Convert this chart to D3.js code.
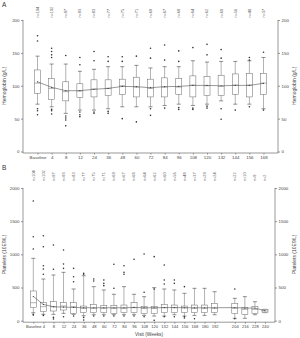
<!DOCTYPE html>
<html>
<head>
<meta charset="utf-8">
<script src="https://cdn.jsdelivr.net/npm/d3@7"></script>
<style>
  body { margin: 0; background: #fff; }
  text { font-family: "Liberation Sans", Arial, sans-serif; fill: #333; }
</style>
</head>
<body>
<div id="chart"></div>
<script>
// ---- Panel A: hemoglobin ----
var visitsA = ["Baseline", "4", "8", "12", "24", "36", "48", "60", "72", "84", "96", "108", "120", "132", "144", "156", "168"];
var nA = [104, 102, 97, 93, 83, 77, 75, 71, 69, 67, 68, 64, 62, 60, 56, 48, 37];
var hbQ1 = [88.5, 79, 77, 82, 83, 85, 87, 83, 83, 83, 87, 83, 85, 85, 87, 83, 87];
var hbMed = [104, 96, 91, 92, 95, 96, 100, 98, 96, 98, 98, 101, 100, 99, 101, 101, 104];
var hbQ3 = [124, 111, 106, 103, 109, 109, 110, 113, 110, 112, 111, 115, 114, 116, 118, 119, 119];
var hbLo = [72, 68, 58, 63, 63, 65, 68, 68, 68, 70, 72, 70, 72, 77, 72, 72, 65];
var hbHi = [145, 133, 133, 122, 125, 129, 129, 131, 127, 129, 129, 138, 136, 137, 137, 138, 143];
var hbMean = [106, 97.6, 92.5, 92.5, 94.6, 96, 99, 98.6, 97, 98.6, 99, 100.5, 100.5, 100, 100.5, 100.5, 103.7];
var hbOut = [
  [176, 168, 65, 62, 56], [157, 152, 147, 143, 64, 62, 57], [146, 54, 51, 48, 39], [143, 132, 60, 56, 53],
  [152, 138, 60, 58], [144, 137, 61, 58], [144, 137, 50], [145, 45], [157, 142, 65, 55],
  [162, 139, 66], [153, 137, 67, 64], [158, 66, 64], [163, 147, 69, 66], [155, 142, 65, 49],
  [63], [143, 139, 68], [151, 63]
];
var hbTicks = [0, 50, 100, 150, 200];

// ---- Panel B: platelets ----
var visitsB = ["Baseline", "4", "8", "12", "24", "36", "48", "60", "72", "84", "96", "108", "120", "132", "144", "156", "168", "180", "192", "204", "216", "228", "240"];
var nB = [104, 102, 97, 93, 83, 77, 75, 71, 69, 67, 68, 64, 62, 60, 56, 48, 37, 29, 24, 22, 10, 9, 2];
var pltQ1 = [196, 136, 146, 161, 111, 121, 121, 121, 106, 121, 121, 106, 106, 121, 121, 121, 121, 121, 121, 106, 96, 106, 121];
var pltMed = [271, 211, 211, 221, 211, 186, 186, 186, 186, 186, 196, 186, 186, 196, 196, 196, 186, 186, 186, 186, 171, 171, 146];
var pltQ3 = [448, 271, 286, 271, 271, 221, 246, 226, 226, 236, 271, 211, 211, 246, 236, 221, 236, 236, 262, 262, 201, 211, 171];
var pltLo = [120, 96, 96, 111, 96, 75, 90, 90, 90, 90, 90, 80, 70, 70, 90, 70, 80, 80, 90, 36, 36, 90, 121];
var pltHi = [940, 628, 689, 729, 478, 678, 513, 463, 398, 513, 398, 362, 498, 478, 463, 413, 488, 488, 437, 337, 362, 286, 171];
var pltMean = [365, 245, 210, 205, 200, 195, 195, 195, 195, 195, 200, 195, 195, 198, 198, 195, 195, 195, 195, 198, 190, 190, 150];
var pltOut = [
  [1804, 1266, 1080, 95, 85], [1281, 1115, 829, 779, 699, 80], [1141, 775, 50, 25], [1065, 854, 789, 60],
  [789, 663, 588, 70], [714, 699, 50, 10], [628, 598, 70], [613, 563, 528, 70], [850, 488, 70],
  [829, 729, 699, 70], [925, 70], [1005, 428, 60], [965, 478, 5], [840, 613, 553, 60],
  [613, 563, 60], [513, 60, 40], [30], [], [], [478, 30], [], [], []
];
var pltTicks = [0, 500, 1000, 1500, 2000];

var svg = d3.select("#chart")
  .append("svg")
  .attr("width", 300)
  .attr("height", 338);

// build the table of box stats for a panel
function makeRows(visits, n, q1, med, q3, lo, hi, mean, out) {
  return visits.map(function(v, i) {
    return { visit: v, n: n[i], q1: q1[i], med: med[i], q3: q3[i], lo: lo[i], hi: hi[i], mean: mean[i], out: out[i] };
  });
}

// draws one boxplot panel
function drawPanel(opts) {
  var g = svg.append("g");
  var x = d3.scalePoint().domain(opts.domain).range(opts.xRange);
  var y = d3.scaleLinear().domain(opts.yDomain).range(opts.yRange);
  var y0 = y(0);
  var fmt = d3.format("d");

  // left axis
  g.append("g")
    .attr("transform", `translate(${opts.left},0)`)
    .call(d3.axisLeft(y).tickValues(opts.ticks).tickFormat(fmt).tickSize(2).tickPadding(1.5))
    .call(s => s.select(".domain").attr("d", `M0,${opts.yRange[1]}V${y0 + 1.5}`));

  // right axis
  g.append("g")
    .attr("transform", `translate(${opts.right},0)`)
    .call(d3.axisRight(y).tickValues(opts.ticks).tickFormat(fmt).tickSize(2).tickPadding(1.5))
    .call(s => s.select(".domain").attr("d", `M0,${opts.yRange[1]}V${y0 + 1.5}`));

  g.selectAll(".tick text").style("font-size", "4.4px").style("fill", "#444");

  // bottom axis
  var xAxis = g.append("g")
    .attr("transform", `translate(0,${y0 + 1.5})`)
    .call(d3.axisBottom(x).tickValues(opts.labels).tickSize(1.5).tickPadding(1.5))
    .call(s => s.select(".domain").attr("d", `M${opts.left},0H${opts.right}`));
  xAxis.selectAll(".tick text").style("font-size", opts.xFont).style("fill", "#444");

  g.selectAll(".domain, .tick line").attr("stroke", "#555").attr("stroke-width", 0.6);

  var rows = opts.rows;
  var bw = 6;

  // whiskers
  var box = g.selectAll(".box").data(rows).enter().append("g").attr("class", "box");
  box.append("line")
    .attr("x1", d => x(d.visit)).attr("x2", d => x(d.visit))
    .attr("y1", d => y(d.lo)).attr("y2", d => y(d.hi))
    .attr("stroke", "#666").attr("stroke-width", 0.5);
  box.selectAll(".cap").data(d => [d.lo, d.hi].map(v => ({ visit: d.visit, v: v }))).enter()
    .append("line")
    .attr("x1", d => x(d.visit) - 2).attr("x2", d => x(d.visit) + 2)
    .attr("y1", d => y(d.v)).attr("y2", d => y(d.v))
    .attr("stroke", "#444").attr("stroke-width", 0.6);

  // boxes
  box.append("rect")
    .attr("x", d => x(d.visit) - bw / 2)
    .attr("width", bw)
    .attr("y", d => y(d.q3))
    .attr("height", d => Math.max(0.5, y(d.q1) - y(d.q3)))
    .attr("fill", "#fff").attr("stroke", "#666").attr("stroke-width", 0.5);
  box.append("line")
    .attr("x1", d => x(d.visit) - bw / 2).attr("x2", d => x(d.visit) + bw / 2)
    .attr("y1", d => y(d.med)).attr("y2", d => y(d.med))
    .attr("stroke", "#666").attr("stroke-width", 0.5);

  // outliers
  box.selectAll(".out").data(d => d.out.map(v => ({ visit: d.visit, v: v }))).enter()
    .append("circle")
    .attr("cx", d => x(d.visit)).attr("cy", d => y(d.v))
    .attr("r", 0.8).attr("fill", "#333");

  // mean line
  g.append("path")
    .datum(rows)
    .attr("fill", "none").attr("stroke", "#555").attr("stroke-width", 0.6)
    .attr("d", d3.line().x(d => x(d.visit)).y(d => y(d.mean)));
  g.selectAll(".mean").data(rows).enter().append("circle")
    .attr("cx", d => x(d.visit)).attr("cy", d => y(d.mean))
    .attr("r", 0.6).attr("fill", "#333");

  // n labels at top
  g.selectAll(".nlab").data(rows).enter().append("text")
    .attr("transform", d => `translate(${x(d.visit) + 1.4},${opts.nBase}) rotate(-90)`)
    .style("font-size", "3.8px").style("fill", "#555")
    .text(d => "n=" + d.n);

  // y titles
  var midY = (opts.yRange[0] + opts.yRange[1]) / 2;
  [5.5, 296].forEach(function(px) {
    g.append("text")
      .attr("transform", `translate(${px},${midY}) rotate(-90)`)
      .attr("text-anchor", "middle")
      .style("font-size", "5px").style("fill", "#444")
      .text(opts.title);
  });

  // panel letter
  g.append("text")
    .attr("x", 2).attr("y", opts.letterY)
    .style("font-size", "6.5px").style("fill", "#333")
    .text(opts.letter);
}

drawPanel({
  rows: makeRows(visitsA, nA, hbQ1, hbMed, hbQ3, hbLo, hbHi, hbMean, hbOut),
  domain: visitsA, labels: visitsA, xFont: "4.4px",
  xRange: [37.5, 263.5], left: 23, right: 278,
  yDomain: [0, 200], yRange: [151.5, 20], ticks: hbTicks,
  nBase: 17.5, title: "Hemoglobin (g/L)", letter: "A", letterY: 7
});

// the chart leaves one empty slot between 192 and 204
var domainB = visitsB.slice(0, 19).concat([" "], visitsB.slice(19));

drawPanel({
  rows: makeRows(visitsB, nB, pltQ1, pltMed, pltQ3, pltLo, pltHi, pltMean, pltOut),
  domain: domainB, labels: visitsB, xFont: "4.1px",
  xRange: [33.3, 265], left: 23, right: 275,
  yDomain: [0, 2000], yRange: [320.7, 188], ticks: pltTicks,
  nBase: 181, title: "Platelets (10E9/L)", letter: "B", letterY: 170
});

svg.append("text")
  .attr("x", 149).attr("y", 336)
  .attr("text-anchor", "middle")
  .style("font-size", "4.8px").style("fill", "#444")
  .text("Visit (Weeks)");
</script>
</body>
</html>
